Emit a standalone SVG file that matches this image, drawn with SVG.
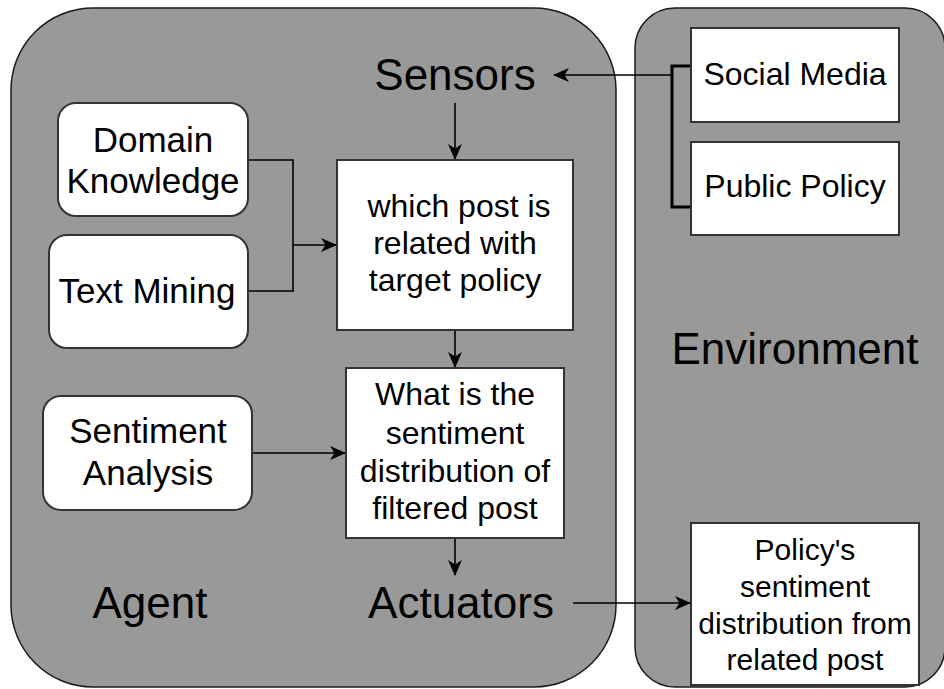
<svg xmlns="http://www.w3.org/2000/svg" width="944" height="689" viewBox="0 0 944 689">
  <style>
    .container { fill: #999999; stroke: #1a1a1a; stroke-width: 1.5; }
    .box { fill: #ffffff; stroke: #333333; stroke-width: 2; }
    .edge { fill: none; stroke: #000000; stroke-width: 1.6; }
    .bracket { fill: none; stroke: #000000; stroke-width: 3; }
    text { font-family: "Liberation Sans", Arial, Helvetica, sans-serif; fill: #000000; text-anchor: middle; }
    .big { font-size: 44px; }
    .mid { font-size: 35px; }
    .small { font-size: 32px; }
    .tiny { font-size: 30px; }
  </style>
  <defs>
    <marker id="arrow" viewBox="0 0 16 14" refX="15" refY="7" markerWidth="16" markerHeight="14" markerUnits="userSpaceOnUse" orient="auto">
      <path d="M0,0 L16,7 L0,14 L4.5,7 Z" fill="#000000"/>
    </marker>
  </defs>

  <rect width="944" height="689" fill="#ffffff"/>

  <!-- Containers -->
  <g id="agent">
    <rect class="container" x="11" y="8" width="605" height="679" rx="82" ry="82"/>
    <text class="big" x="150" y="618">Agent</text>
  </g>
  <g id="environment">
    <rect class="container" x="635" y="8" width="310" height="679" rx="40" ry="40"/>
    <text class="big" x="795" y="364">Environment</text>
  </g>

  <!-- Connectors -->
  <g id="connectors">
    <path class="bracket" d="M691,66 H672 V207 H691"/>
    <path class="edge" d="M672,75 H554" marker-end="url(#arrow)"/>
    <path class="edge" d="M455,103 V159" marker-end="url(#arrow)"/>
    <path class="edge" d="M248,160 H293 V291 H248"/>
    <path class="edge" d="M293,245 H336" marker-end="url(#arrow)"/>
    <path class="edge" d="M455,330 V367" marker-end="url(#arrow)"/>
    <path class="edge" d="M252,453 H345" marker-end="url(#arrow)"/>
    <path class="edge" d="M455,538 V575" marker-end="url(#arrow)"/>
    <path class="edge" d="M573,603 H690" marker-end="url(#arrow)"/>
  </g>

  <!-- Agent nodes -->
  <g id="sensors">
    <text class="big" x="455" y="90">Sensors</text>
  </g>
  <g id="actuators">
    <text class="big" x="461" y="618">Actuators</text>
  </g>
  <g id="domain-knowledge">
    <rect class="box" x="58" y="103" width="190" height="113" rx="18" ry="18"/>
    <text class="mid" x="153" y="152">Domain</text>
    <text class="mid" x="153" y="193">Knowledge</text>
  </g>
  <g id="text-mining">
    <rect class="box" x="49" y="235" width="199" height="113" rx="18" ry="18"/>
    <text class="mid" x="147" y="303">Text Mining</text>
  </g>
  <g id="sentiment-analysis">
    <rect class="box" x="43" y="396" width="209" height="114" rx="18" ry="18"/>
    <text class="mid" x="148" y="443">Sentiment</text>
    <text class="mid" x="148" y="485">Analysis</text>
  </g>
  <g id="related-post">
    <rect class="box" x="337" y="160" width="236" height="170"/>
    <text class="small" x="459" y="217">which post is</text>
    <text class="small" x="455" y="254">related with</text>
    <text class="small" x="455" y="291">target policy</text>
  </g>
  <g id="sentiment-distribution">
    <rect class="box" x="346" y="368" width="218" height="170"/>
    <text class="small" x="455" y="405">What is the</text>
    <text class="small" x="455" y="444">sentiment</text>
    <text class="small" x="455" y="482">distribution of</text>
    <text class="small" x="455" y="519">filtered post</text>
  </g>

  <!-- Environment nodes -->
  <g id="social-media">
    <rect class="box" x="691" y="28" width="208" height="94"/>
    <text class="small" x="795" y="85">Social Media</text>
  </g>
  <g id="public-policy">
    <rect class="box" x="691" y="142" width="208" height="93"/>
    <text class="small" x="795" y="197">Public Policy</text>
  </g>
  <g id="policy-sentiment">
    <rect class="box" x="691" y="523" width="228" height="162"/>
    <text class="tiny" x="805" y="560">Policy's</text>
    <text class="tiny" x="805" y="597">sentiment</text>
    <text class="tiny" x="805" y="634">distribution from</text>
    <text class="tiny" x="805" y="670">related post</text>
  </g>
</svg>
